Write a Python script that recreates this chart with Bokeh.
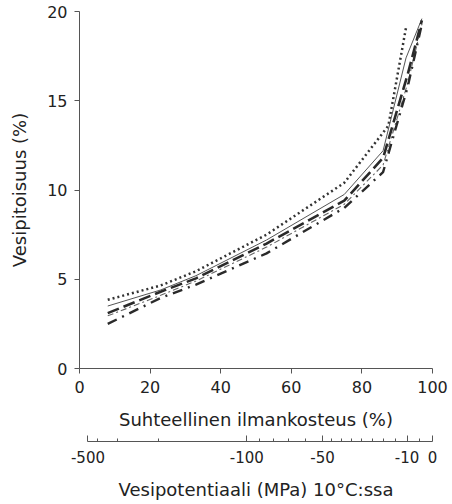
import math
from bokeh.plotting import figure
from bokeh.models import Range1d, FixedTicker
from bokeh.layouts import column
from bokeh.embed import file_html
from bokeh.resources import INLINE

# ---- data ----
rh_dotted = [8, 23, 33, 53, 75, 87.5, 92.5]
wc_dotted = [3.85, 4.65, 5.45, 7.5, 10.4, 13.6, 19.1]

rh_solid = [8, 23, 33, 53, 75, 86, 92.5, 97]
wc_solid = [3.5, 4.4, 5.2, 7.2, 9.75, 12.2, 17.4, 19.6]

rh_longdash = [8, 23, 33, 53, 75, 86, 93, 97]
wc_longdash = [3.1, 4.3, 5.05, 7.0, 9.4, 11.8, 16.5, 19.5]

rh_thindashdot = [8, 23, 33, 53, 75, 86, 93, 97]
wc_thindashdot = [2.95, 4.1, 4.9, 6.8, 9.2, 11.4, 16.0, 19.3]

rh_dashdot = [8, 23, 33, 53, 75, 86, 93, 97]
wc_dashdot = [2.5, 3.95, 4.7, 6.45, 9.0, 11.0, 15.8, 19.3]

x_ticks = [0, 20, 40, 60, 80, 100]
y_ticks = [0, 5, 10, 15, 20]

psi_major = [-500, -100, -50, -10, 0]
psi_labels = ["-500", "-100", "-50", "-10", "0"]
psi_minor = [-400, -300, -200, -90, -80, -70, -60,
             -45, -40, -35, -30, -25, -20, -15, -5]
K_MPA = 134.0  # RT/Vw scale used for the water potential axis


def rh_of(psi):
    return round(100.0 * math.exp(psi / K_MPA), 4)


FONT = "DejaVu Sans"
INK = "#222222"

xr = Range1d(0, 100)

p = figure(width=452, height=434, x_range=xr, y_range=Range1d(0, 20),
           output_backend="svg", toolbar_location=None,
           min_border_left=79, min_border_right=20,
           min_border_top=11, min_border_bottom=66)
p.outline_line_color = None
p.grid.visible = False
p.background_fill_color = "white"
p.border_fill_color = "white"

p.line(rh_dotted, wc_dotted, line_color="#333333", line_width=2.5,
       line_dash="2 3")
p.line(rh_solid, wc_solid, line_color="#555555", line_width=1.0)
p.line(rh_longdash, wc_longdash, line_color="#2a2a2a", line_width=2.6,
       line_dash="12 5")
p.line(rh_thindashdot, wc_thindashdot, line_color="#666666", line_width=1.1,
       line_dash="6 3 2 3")
p.line(rh_dashdot, wc_dashdot, line_color="#2a2a2a", line_width=2.4,
       line_dash="10 6 2 6")

for ax, ticks, label in ((p.xaxis[0], x_ticks, "Suhteellinen ilmankosteus (%)"),
                         (p.yaxis[0], y_ticks, "Vesipitoisuus (%)")):
    ax.ticker = FixedTicker(ticks=ticks, minor_ticks=[])
    ax.axis_label = label
    ax.axis_label_text_font = FONT
    ax.axis_label_text_font_size = "18px"
    ax.axis_label_text_font_style = "normal"
    ax.axis_label_text_color = INK
    ax.major_label_text_font = FONT
    ax.major_label_text_font_size = "16px"
    ax.major_label_text_color = INK
    ax.axis_line_color = "#555555"
    ax.major_tick_line_color = "#555555"
    ax.major_tick_out = 5
    ax.major_tick_in = 0
    ax.minor_tick_out = 0
    ax.minor_tick_in = 0
    ax.major_label_standoff = 7
p.xaxis[0].axis_label_standoff = 13
p.yaxis[0].axis_label_standoff = 14

# ---- secondary (water potential) axis ----
p2 = figure(width=452, height=70, x_range=xr, y_range=Range1d(0, 1),
            output_backend="svg", toolbar_location=None,
            y_axis_location=None,
            min_border_left=79, min_border_right=20,
            min_border_top=1, min_border_bottom=63)
p2.outline_line_color = None
p2.grid.visible = False
p2.scatter([], [])

major_pos = [rh_of(v) for v in psi_major]
minor_pos = [rh_of(v) for v in psi_minor]
ax2 = p2.xaxis[0]
ax2.ticker = FixedTicker(ticks=major_pos, minor_ticks=minor_pos)
ax2.major_label_overrides = {pos: lab for pos, lab in zip(major_pos, psi_labels)}
ax2.bounds = (major_pos[0], 100)
ax2.axis_label = "Vesipotentiaali (MPa) 10°C:ssa"
ax2.axis_label_text_font = FONT
ax2.axis_label_text_font_size = "18px"
ax2.axis_label_text_font_style = "normal"
ax2.axis_label_text_color = INK
ax2.major_label_text_font = FONT
ax2.major_label_text_font_size = "15px"
ax2.major_label_text_color = INK
ax2.axis_line_color = "#555555"
ax2.major_tick_line_color = "#555555"
ax2.minor_tick_line_color = "#555555"
ax2.major_tick_in = 6
ax2.major_tick_out = 0
ax2.minor_tick_in = 3
ax2.minor_tick_out = 0
ax2.major_label_standoff = 9
ax2.axis_label_standoff = 13

layout = column(p, p2, spacing=0)
open("out.html", "w").write(file_html(layout, INLINE))
